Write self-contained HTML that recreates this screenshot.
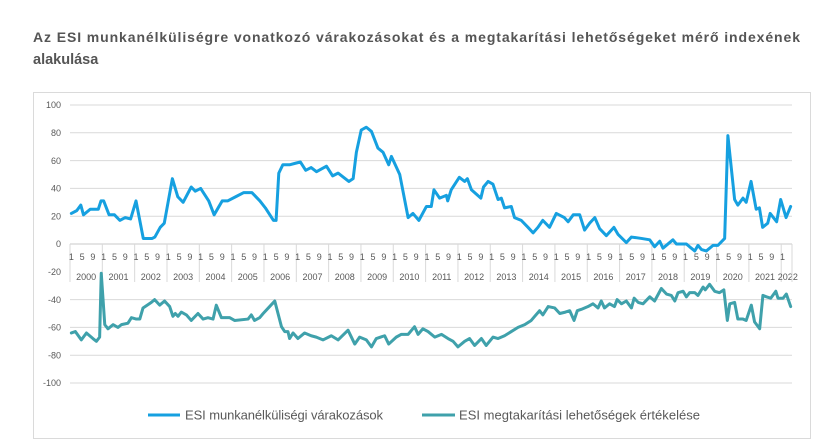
<!DOCTYPE html>
<html>
<head>
<meta charset="utf-8">
<style>
html,body{margin:0;padding:0;background:#fff;}
svg{display:block;}
text{font-family:"Liberation Sans",sans-serif;}
</style>
</head>
<body>
<svg width="825" height="448" viewBox="0 0 825 448" xmlns="http://www.w3.org/2000/svg">
<rect x="0" y="0" width="825" height="448" fill="#fff"/>
<!-- Title -->
<text x="33" y="42" font-size="14" font-weight="bold" fill="#555" textLength="767" lengthAdjust="spacing">Az ESI munkanélküliségre vonatkozó várakozásokat és a megtakarítási lehetőségeket mérő indexének</text>
<text x="33" y="64" font-size="14.5" font-weight="bold" fill="#555">alakulása</text>

<!-- Chart box -->
<rect x="33.5" y="92.5" width="777" height="346" fill="#fff" stroke="#dadada" stroke-width="1"/>

<!-- Gridlines -->
<g stroke="#d9d9d9" stroke-width="1">
<line x1="70" y1="105" x2="792" y2="105"/>
<line x1="70" y1="132.8" x2="792" y2="132.8"/>
<line x1="70" y1="160.6" x2="792" y2="160.6"/>
<line x1="70" y1="188.4" x2="792" y2="188.4"/>
<line x1="70" y1="216.2" x2="792" y2="216.2"/>
<line x1="70" y1="299.6" x2="792" y2="299.6"/>
<line x1="70" y1="327.4" x2="792" y2="327.4"/>
<line x1="70" y1="355.2" x2="792" y2="355.2"/>
<line x1="70" y1="383" x2="792" y2="383"/>
</g>
<line x1="70" y1="244" x2="792" y2="244" stroke="#c8c8c8" stroke-width="1"/>

<!-- Y labels -->
<g font-size="9" fill="#595959" text-anchor="end">
<text x="61" y="108">100</text>
<text x="61" y="136">80</text>
<text x="61" y="164">60</text>
<text x="61" y="191.5">40</text>
<text x="61" y="219.5">20</text>
<text x="61" y="247">0</text>
<text x="61" y="275">-20</text>
<text x="61" y="303">-40</text>
<text x="61" y="330.5">-60</text>
<text x="61" y="358.5">-80</text>
<text x="61" y="386">-100</text>
</g>

<!-- X axis categories -->
<g font-size="9" fill="#595959" text-anchor="middle">
<g transform="translate(0,0)"><line x1="70" y1="244" x2="70" y2="282" stroke="#d9d9d9"/><text x="71.35" y="260">1</text><text x="82.13" y="260">5</text><text x="92.9" y="260">9</text><text x="86.16" y="280">2000</text></g>
<g transform="translate(32.33,0)"><line x1="70" y1="244" x2="70" y2="282" stroke="#d9d9d9"/><text x="71.35" y="260">1</text><text x="82.13" y="260">5</text><text x="92.9" y="260">9</text><text x="86.16" y="280">2001</text></g>
<g transform="translate(64.66,0)"><line x1="70" y1="244" x2="70" y2="282" stroke="#d9d9d9"/><text x="71.35" y="260">1</text><text x="82.13" y="260">5</text><text x="92.9" y="260">9</text><text x="86.16" y="280">2002</text></g>
<g transform="translate(96.98,0)"><line x1="70" y1="244" x2="70" y2="282" stroke="#d9d9d9"/><text x="71.35" y="260">1</text><text x="82.13" y="260">5</text><text x="92.9" y="260">9</text><text x="86.16" y="280">2003</text></g>
<g transform="translate(129.31,0)"><line x1="70" y1="244" x2="70" y2="282" stroke="#d9d9d9"/><text x="71.35" y="260">1</text><text x="82.13" y="260">5</text><text x="92.9" y="260">9</text><text x="86.16" y="280">2004</text></g>
<g transform="translate(161.64,0)"><line x1="70" y1="244" x2="70" y2="282" stroke="#d9d9d9"/><text x="71.35" y="260">1</text><text x="82.13" y="260">5</text><text x="92.9" y="260">9</text><text x="86.16" y="280">2005</text></g>
<g transform="translate(193.97,0)"><line x1="70" y1="244" x2="70" y2="282" stroke="#d9d9d9"/><text x="71.35" y="260">1</text><text x="82.13" y="260">5</text><text x="92.9" y="260">9</text><text x="86.16" y="280">2006</text></g>
<g transform="translate(226.3,0)"><line x1="70" y1="244" x2="70" y2="282" stroke="#d9d9d9"/><text x="71.35" y="260">1</text><text x="82.13" y="260">5</text><text x="92.9" y="260">9</text><text x="86.16" y="280">2007</text></g>
<g transform="translate(258.62,0)"><line x1="70" y1="244" x2="70" y2="282" stroke="#d9d9d9"/><text x="71.35" y="260">1</text><text x="82.13" y="260">5</text><text x="92.9" y="260">9</text><text x="86.16" y="280">2008</text></g>
<g transform="translate(290.95,0)"><line x1="70" y1="244" x2="70" y2="282" stroke="#d9d9d9"/><text x="71.35" y="260">1</text><text x="82.13" y="260">5</text><text x="92.9" y="260">9</text><text x="86.16" y="280">2009</text></g>
<g transform="translate(323.28,0)"><line x1="70" y1="244" x2="70" y2="282" stroke="#d9d9d9"/><text x="71.35" y="260">1</text><text x="82.13" y="260">5</text><text x="92.9" y="260">9</text><text x="86.16" y="280">2010</text></g>
<g transform="translate(355.61,0)"><line x1="70" y1="244" x2="70" y2="282" stroke="#d9d9d9"/><text x="71.35" y="260">1</text><text x="82.13" y="260">5</text><text x="92.9" y="260">9</text><text x="86.16" y="280">2011</text></g>
<g transform="translate(387.94,0)"><line x1="70" y1="244" x2="70" y2="282" stroke="#d9d9d9"/><text x="71.35" y="260">1</text><text x="82.13" y="260">5</text><text x="92.9" y="260">9</text><text x="86.16" y="280">2012</text></g>
<g transform="translate(420.26,0)"><line x1="70" y1="244" x2="70" y2="282" stroke="#d9d9d9"/><text x="71.35" y="260">1</text><text x="82.13" y="260">5</text><text x="92.9" y="260">9</text><text x="86.16" y="280">2013</text></g>
<g transform="translate(452.59,0)"><line x1="70" y1="244" x2="70" y2="282" stroke="#d9d9d9"/><text x="71.35" y="260">1</text><text x="82.13" y="260">5</text><text x="92.9" y="260">9</text><text x="86.16" y="280">2014</text></g>
<g transform="translate(484.92,0)"><line x1="70" y1="244" x2="70" y2="282" stroke="#d9d9d9"/><text x="71.35" y="260">1</text><text x="82.13" y="260">5</text><text x="92.9" y="260">9</text><text x="86.16" y="280">2015</text></g>
<g transform="translate(517.25,0)"><line x1="70" y1="244" x2="70" y2="282" stroke="#d9d9d9"/><text x="71.35" y="260">1</text><text x="82.13" y="260">5</text><text x="92.9" y="260">9</text><text x="86.16" y="280">2016</text></g>
<g transform="translate(549.58,0)"><line x1="70" y1="244" x2="70" y2="282" stroke="#d9d9d9"/><text x="71.35" y="260">1</text><text x="82.13" y="260">5</text><text x="92.9" y="260">9</text><text x="86.16" y="280">2017</text></g>
<g transform="translate(581.9,0)"><line x1="70" y1="244" x2="70" y2="282" stroke="#d9d9d9"/><text x="71.35" y="260">1</text><text x="82.13" y="260">5</text><text x="92.9" y="260">9</text><text x="86.16" y="280">2018</text></g>
<g transform="translate(614.23,0)"><line x1="70" y1="244" x2="70" y2="282" stroke="#d9d9d9"/><text x="71.35" y="260">1</text><text x="82.13" y="260">5</text><text x="92.9" y="260">9</text><text x="86.16" y="280">2019</text></g>
<g transform="translate(646.56,0)"><line x1="70" y1="244" x2="70" y2="282" stroke="#d9d9d9"/><text x="71.35" y="260">1</text><text x="82.13" y="260">5</text><text x="92.9" y="260">9</text><text x="86.16" y="280">2020</text></g>
<g transform="translate(678.89,0)"><line x1="70" y1="244" x2="70" y2="282" stroke="#d9d9d9"/><text x="71.35" y="260">1</text><text x="82.13" y="260">5</text><text x="92.9" y="260">9</text><text x="86.16" y="280">2021</text></g>
<g transform="translate(711.22,0)"><line x1="70" y1="244" x2="70" y2="282" stroke="#d9d9d9"/><text x="71.35" y="260">1</text><text x="76.6" y="280">2022</text></g>
<line x1="792" y1="244" x2="792" y2="282" stroke="#d9d9d9"/>
</g>

<!-- Series 1: ESI munkanélküliségi várakozások -->
<polyline fill="none" stroke="#16a0e0" stroke-width="3" stroke-linejoin="round" stroke-linecap="round" points="71.35,213.42 76.74,210.64 80.78,205.08 83.47,214.81 90.21,209.25 98.29,209.25 100.98,200.91 103.68,200.91 109.07,214.81 114.45,214.81 119.84,220.37 125.23,217.59 130.62,218.98 136.01,200.91 143.28,238.44 152.17,238.44 154.86,237.05 160.25,227.32 164.29,223.15 168.33,200.91 172.38,178.67 177.76,196.74 183.15,202.3 191.23,187.01 195.27,191.18 200.66,188.4 208.74,200.91 214.13,214.81 222.21,200.91 227.6,200.91 235.68,196.74 243.77,192.57 251.85,192.57 254.54,195.35 259.93,200.91 265.32,207.86 273.4,220.37 276.09,220.37 278.79,173.11 282.83,164.77 289.56,164.77 294.95,163.38 300.34,161.99 305.73,170.33 311.12,167.55 316.5,171.72 326.47,166.16 332.67,175.89 338.06,173.11 348.83,181.45 353.14,178.67 356.37,152.26 361.22,130.02 366.34,127.24 371.46,131.41 377.92,148.09 383.04,152.26 388.7,164.77 391.39,156.43 399.74,174.5 408.1,217.59 412.94,213.42 418.88,220.37 426.42,206.47 431.27,206.47 433.96,189.79 439.62,198.13 446.35,195.35 447.7,200.91 451.2,189.79 459.29,177.28 464.67,181.45 467.37,178.67 471.41,189.79 480.84,198.13 483.53,187.01 488.11,181.45 492.96,184.23 498.08,199.52 501.32,198.13 504.55,207.86 511.28,206.47 514.51,217.59 521.25,220.37 527.98,227.32 533.1,232.88 537.95,227.32 542.8,220.37 549.54,227.32 556.27,213.42 564.35,217.59 568.13,221.76 573.25,214.81 579.71,214.81 584.56,230.1 589.68,223.15 594.8,217.59 599.65,228.71 606.38,235.66 613.92,227.32 617.96,234.27 626.31,242.61 631.43,237.05 641.4,238.44 649.75,239.83 654.6,246.78 659.72,241.22 662.95,248.17 672.92,239.83 676.42,244 686.39,244 689.62,246.78 694.74,250.95 697.97,245.39 701.48,249.56 706.33,250.95 713.06,245.39 717.91,245.39 724.65,238.44 727.88,135.58 734.61,199.52 737.85,205.08 742.97,198.13 746.2,202.3 751.05,181.45 756.17,209.25 759.4,207.86 762.63,227.32 767.75,223.15 770.17,213.42 776.64,221.76 780.68,199.52 786.07,217.59 790.65,206.47"/>

<!-- Series 2: ESI megtakarítási lehetőségek értékelése -->
<polyline fill="none" stroke="#3fa1ab" stroke-width="3" stroke-linejoin="round" stroke-linecap="round" points="71.35,332.96 75.39,331.57 81.32,339.91 86.44,332.96 92.9,338.52 96.4,341.3 99.64,337.13 101.25,273.19 104.76,324.62 107.99,328.79 113.11,324.62 117.96,327.4 121.46,324.62 127.92,323.23 131.43,317.67 136.28,319.06 139.78,319.06 143.01,307.94 151.36,302.38 154.6,299.6 159.71,305.16 164.56,300.99 169.68,306.55 172.91,316.28 175.34,313.5 178.03,316.28 181.27,312.11 186.39,314.89 191.23,320.45 197.97,313.5 203.09,319.06 207.94,317.67 213.05,319.06 216.29,305.16 221.41,317.67 229.76,317.67 234.6,320.45 248.08,319.06 251.31,314.89 254.54,320.45 259.66,317.67 263.16,313.5 269.63,306.55 274.75,300.99 281.48,326.71 284.72,331.57 287.95,331.57 289.56,338.52 293.07,332.96 297.92,338.52 304.65,332.96 311.12,335.74 316.24,337.13 322.97,339.91 331.32,335.74 338.06,339.91 348.02,330.18 354.76,344.08 359.61,337.13 366.34,339.91 371.46,346.86 376.31,338.52 384.66,335.74 388.7,344.08 396.24,337.13 401.36,334.35 408.1,334.35 414.56,326.71 418.07,334.35 422.92,328.79 428.04,331.57 434.77,337.13 441.51,334.35 447.97,338.52 453.09,341.3 457.94,346.86 464.67,341.3 469.52,338.52 474.64,345.47 481.38,338.52 486.23,345.47 492.96,337.13 498.08,338.52 504.55,335.74 511.28,331.57 518.02,327.4 524.75,324.62 531.22,320.45 534.72,316.28 539.57,310.72 542.8,314.89 548.19,306.55 554.65,307.94 559.77,313.5 565.43,312.11 569.74,310.72 574.05,320.45 577.28,310.72 581.32,309.33 588.06,306.55 592.91,303.77 598.03,307.94 601.26,300.99 604.5,307.94 609.62,303.77 614.47,306.55 617.16,299.6 621.47,303.77 626.31,300.99 631.43,307.94 634.13,298.21 638.17,302.38 643.02,303.77 649.75,296.82 654.6,300.99 661.34,288.48 666.46,294.04 671.3,295.43 674.81,300.99 678.04,292.65 683.16,291.26 686.39,296.82 689.62,292.65 694.74,292.65 697.97,295.43 703.09,287.09 705.25,289.87 709.56,284.31 714.68,291.26 719.53,292.65 723.84,289.87 727.34,320.45 729.77,303.77 734.61,302.38 737.85,319.06 742.97,319.06 746.2,320.45 751.32,305.16 754.55,321.84 759.67,328.79 762.9,295.43 766.4,296.82 770.71,298.21 775.83,291.26 777.99,298.21 783.11,298.21 786.34,294.04 790.65,306.55"/>

<!-- Legend -->
<line x1="148" y1="415" x2="180" y2="415" stroke="#16a0e0" stroke-width="3"/>
<text x="185" y="419.5" font-size="13" fill="#595959" textLength="198" lengthAdjust="spacing">ESI munkanélküliségi várakozások</text>
<line x1="422" y1="415" x2="455" y2="415" stroke="#3fa1ab" stroke-width="3"/>
<text x="459" y="419.5" font-size="13" fill="#595959" textLength="241" lengthAdjust="spacing">ESI megtakarítási lehetőségek értékelése</text>
</svg>
</body>
</html>
